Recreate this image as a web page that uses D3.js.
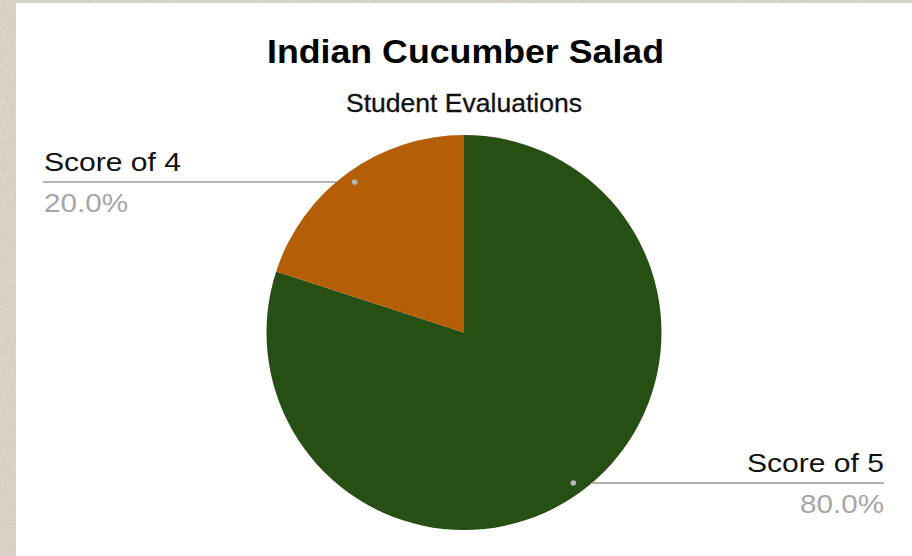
<!DOCTYPE html>
<html>
<head>
<meta charset="utf-8">
<script src="https://cdn.jsdelivr.net/npm/d3@7/dist/d3.min.js"></script>
<style>
  html, body { margin: 0; padding: 0; background: #d6cdbf; }
  svg { display: block; }
</style>
</head>
<body>
<svg id="chart" width="912" height="556"></svg>
<script>
// Evaluation shares per score
const categories = ["Score of 5", "Score of 4"];
const shares = [0.8, 0.2];
const colors = ["#274e13", "#b45f06"];
const title = "Indian Cucumber Salad";
const subtitle = "Student Evaluations";

const W = 912, H = 556;
const svg = d3.select("#chart");

// paper-like backdrop
const defs = svg.append("defs");
const f = defs.append("filter").attr("id", "paper").attr("x", 0).attr("y", 0).attr("width", "100%").attr("height", "100%");
f.append("feTurbulence").attr("type", "fractalNoise").attr("baseFrequency", "0.9 0.35").attr("numOctaves", 3).attr("seed", 4).attr("result", "noise");
f.append("feColorMatrix").attr("in", "noise").attr("type", "matrix")
  .attr("values", "0 0 0 0 0.78  0 0 0 0 0.74  0 0 0 0 0.68  0 0 0 -1.0 1.0").attr("result", "tint");
f.append("feComposite").attr("in", "tint").attr("in2", "SourceGraphic").attr("operator", "over");

svg.append("rect").attr("width", W).attr("height", H).attr("fill", "#d4cbbd");
svg.append("rect").attr("width", W).attr("height", H).attr("fill", "#cfc5b6").attr("filter", "url(#paper)").attr("opacity", 0.85);

// chart panel
const panel = { x: 16, y: 3, w: W - 16, h: H - 3 };
svg.append("rect").attr("x", panel.x).attr("y", panel.y).attr("width", panel.w).attr("height", panel.h).attr("fill", "#ffffff");

const font = "'Liberation Sans', Arial, sans-serif";

// wide-set text helper: fixed advance width per string
function wideText(sel, len) {
  return sel.attr("textLength", len).attr("lengthAdjust", "spacingAndGlyphs");
}

wideText(svg.append("text").attr("x", 465.5).attr("y", 63).attr("text-anchor", "middle")
  .attr("font-family", font).attr("font-weight", "bold").attr("font-size", 33).attr("fill", "#000")
  .text(title), 397);
wideText(svg.append("text").attr("x", 464).attr("y", 112).attr("text-anchor", "middle")
  .attr("font-family", font).attr("font-size", 25).attr("fill", "#111")
  .attr("stroke", "#111").attr("stroke-width", 0.3)
  .text(subtitle), 236);

// pie
const cx = 464, cy = 332.5, R = 197.5;
const data = categories.map((c, i) => ({ name: c, value: shares[i], color: colors[i] }));
const pie = d3.pie().value(d => d.value).sort(null);
const arcs = pie(data);
const arc = d3.arc().innerRadius(0).outerRadius(R);
const dotArc = d3.arc().innerRadius(186).outerRadius(186);

const g = svg.append("g").attr("transform", `translate(${cx},${cy})`);
g.selectAll("path").data(arcs).join("path")
  .attr("d", arc).attr("fill", d => d.data.color);

// leader lines and labels
const fmt = d3.format(".1%");
const labelX = { right: 884, left: 43 };
arcs.forEach(a => {
  const [dx, dy] = dotArc.centroid(a);
  const onRight = dx > 0;
  const edge = Math.sqrt(R * R - dy * dy);
  const lx = onRight ? labelX.right - cx : labelX.left - cx;
  const ex = onRight ? edge : -edge;
  g.append("line").attr("x1", ex).attr("y1", dy).attr("x2", lx).attr("y2", dy)
    .attr("stroke", "#9a9a9a").attr("stroke-width", 1.5);
  g.append("circle").attr("cx", dx).attr("cy", dy).attr("r", 2.8).attr("fill", "#b8b8b8");
  const tx = onRight ? lx : lx + 1;
  wideText(g.append("text").attr("x", tx).attr("y", dy - 11)
    .attr("text-anchor", onRight ? "end" : "start")
    .attr("font-family", font).attr("font-size", 26).attr("fill", "#111")
    .text(a.data.name), 137);
  wideText(g.append("text").attr("x", tx).attr("y", dy + 30)
    .attr("text-anchor", onRight ? "end" : "start")
    .attr("font-family", font).attr("font-size", 26).attr("fill", "#a6a6a6")
    .text(fmt(a.data.value)), 84);
});
</script>
</body>
</html>
